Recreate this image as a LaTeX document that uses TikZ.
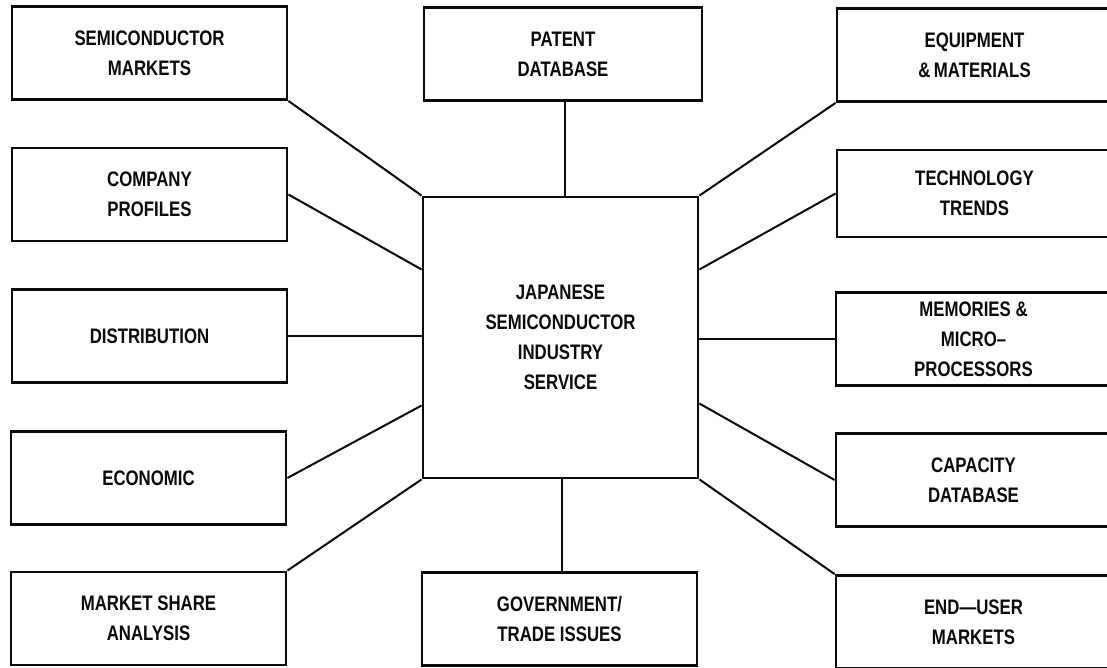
\documentclass[tikz,border=0pt]{standalone}
\usepackage{fontspec}
\newfontfamily\plotfont[FakeStretch=0.8,Ligatures=TeX]{Liberation Sans}
\usetikzlibrary{positioning,calc}
\definecolor{ink}{HTML}{0A0A0A}
\definecolor{paper}{HTML}{FFFFFF}
\tikzset{
  topic/.style={draw=ink, line width=1.4pt, fill=paper, align=center,
                font=\plotfont\bfseries\fontsize{10.5}{15}\selectfont, text=ink,
                minimum width=137.5pt, minimum height=46.5pt, inner sep=2pt},
  hub/.style={topic, minimum height=140.5pt},
  link/.style={draw=ink, line width=1pt},
}
\begin{document}
\begin{tikzpicture}[x=0.5pt, y=-0.5pt]
  \useasboundingbox (0,0) rectangle (1107,668);
  \fill[paper] (0,0) rectangle (1107,668);
  \clip (0,0) rectangle (1107,668);
  % centre service
  \node[hub] (jsis) at (560.5,337.5) {JAPANESE\\SEMICONDUCTOR\\INDUSTRY\\SERVICE};
  % left column
  \node[topic] (semi) at (149.5,53) {SEMICONDUCTOR\\MARKETS};
  \node[topic] (comp) at (149.5,194.5) {COMPANY\\PROFILES};
  \node[topic] (dist) at (149.5,336) {DISTRIBUTION};
  \node[topic] (econ) at (148.5,478) {ECONOMIC};
  \node[topic] (share) at (148.5,618.5) {MARKET SHARE\\ANALYSIS};
  % top and bottom
  \node[topic, minimum width=139pt] (patent) at (563,54) {PATENT\\DATABASE};
  \node[topic] (govt) at (559.5,619) {GOVERNMENT/\\TRADE ISSUES};
  % right column (runs off the page edge)
  \node[topic] (equip) at (974.5,55) {EQUIPMENT\\\&\,MATERIALS};
  \node[topic, minimum height=43.5pt] (tech) at (974.5,193.5) {TECHNOLOGY\\TRENDS};
  \node[topic] (memo) at (973.5,339) {MEMORIES \&\\MICRO–\\PROCESSORS};
  \node[topic] (capa) at (973.5,480) {CAPACITY\\DATABASE};
  \node[topic] (endu) at (973.5,622) {END—USER\\MARKETS};
  % spokes
  \draw[link] (semi.south east) -- (jsis.north west);
  \draw[link] (comp.east) -- ([yshift=34pt]jsis.west);
  \draw[link] (dist.east) -- (dist.east -| jsis.west);
  \draw[link] (econ.east) -- ([yshift=-34pt]jsis.west);
  \draw[link] (share.north east) -- (jsis.south west);
  \draw[link] ([xshift=1pt]patent.south) -- ([xshift=1pt]patent.south |- jsis.north);
  \draw[link] ([xshift=1pt]govt.north) -- ([xshift=1pt]govt.north |- jsis.south);
  \draw[link] (equip.south west) -- (jsis.north east);
  \draw[link] (tech.west) -- ([yshift=34pt]jsis.east);
  \draw[link] (memo.west) -- (memo.west -| jsis.east);
  \draw[link] (capa.west) -- ([yshift=-33pt]jsis.east);
  \draw[link] (endu.north west) -- (jsis.south east);
\end{tikzpicture}
\end{document}
